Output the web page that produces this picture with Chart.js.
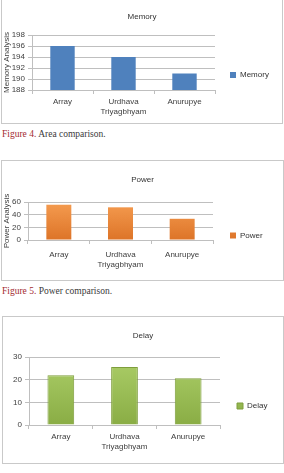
<!DOCTYPE html>
<html>
<head>
<meta charset="utf-8">
<script src="https://cdn.jsdelivr.net/npm/chart.js@4.4.1/dist/chart.umd.min.js"></script>
<style>
body{margin:0;width:284px;height:473px;background:#fff;position:relative;overflow:hidden;font-family:"Liberation Sans",Arial,sans-serif}
.box{position:absolute;border:1px solid #c9c9c9;box-sizing:border-box;background:#fff}
.box canvas{display:block}
.cap{position:absolute;left:2px;font-family:"Liberation Serif","DejaVu Serif",serif;font-size:9.5px;color:#3a3a3a;white-space:nowrap}
.cap span{color:#a32a30}
</style>
</head>
<body>

<div class="box" style="left:1px;top:-2px;width:282px;height:126px"><canvas id="memChart" width="280" height="124"></canvas></div>
<div class="cap" style="top:129px"><span>Figure 4.</span> Area comparison.</div>

<div class="box" style="left:1px;top:160px;width:283px;height:121px"><canvas id="powChart" width="281" height="119"></canvas></div>
<div class="cap" style="top:286px"><span>Figure 5.</span> Power comparison.</div>

<div class="box" style="left:2px;top:316px;width:282px;height:148px"><canvas id="delChart" width="280" height="146"></canvas></div>

<script>
// categories + values
const categories = ["Array", ["Urdhava", "Triyagbhyam"], "Anurupye"]

const memoryValues = [196, 194, 191]
const memoryTicks = [188, 190, 192, 194, 196, 198]

const powerValues = [55.7, 51.6, 33.5]
const powerTicks = [0, 20, 40, 60]

const delayValues = [22, 25.6, 20.6]
const delayTicks = [0, 10, 20, 30]

const gridColor = '#bfbfbf'
const textColor = '#404040'
const font = { family: 'Liberation Sans', size: 8, weight: 'normal' }

// legend gets a fixed width (so the plot ends where it should) and is pushed down a bit
function legendPlugin(w, shift) {
    return {
        id: 'legendPlace',
        beforeInit(chart) {
            const fit = chart.legend.fit
            chart.legend.fit = function () {
                fit.bind(chart.legend)()
                this.width = w
            }
        },
        afterLayout(chart) {
            chart.legend.top += shift
            chart.legend.bottom += shift
        }
    }
}

function vGradient(top, bottom) {
    return function (ctx) {
        const area = ctx.chart.chartArea
        if (!area) return top
        const g = ctx.chart.ctx.createLinearGradient(0, area.top, 0, area.bottom)
        g.addColorStop(0, top)
        g.addColorStop(1, bottom)
        return g
    }
}

function buildChart(id, cfg) {
    const ticks = cfg.ticks
    new Chart(document.getElementById(id).getContext('2d'), {
        type: 'bar',
        data: {
            labels: categories,
            datasets: [{
                label: cfg.label,
                data: cfg.values,
                backgroundColor: cfg.color,
                borderColor: cfg.border || cfg.color,
                borderWidth: cfg.borderWidth || 0,
                categoryPercentage: 1,
                barPercentage: cfg.barPct
            }]
        },
        options: {
            responsive: false,
            animation: false,
            events: [],
            layout: { padding: 0 },
            plugins: {
                title: {
                    display: true,
                    text: cfg.label,
                    color: '#333',
                    font: font,
                    padding: { top: cfg.titleTop, bottom: cfg.titleBottom }
                },
                legend: {
                    position: 'right',
                    labels: {
                        boxWidth: 6,
                        boxHeight: 6,
                        padding: cfg.legendPad,
                        color: '#333',
                        font: font
                    }
                },
                tooltip: { enabled: false }
            },
            scales: {
                x: {
                    afterFit: s => { s.height = cfg.xHeight },
                    grid: { display: true, drawOnChartArea: false, offset: true, tickLength: 4, color: gridColor },
                    border: { color: gridColor },
                    ticks: { color: textColor, padding: cfg.xPad, font: font, maxRotation: 0 }
                },
                y: {
                    min: ticks[0],
                    max: ticks[ticks.length - 1],
                    afterFit: s => { s.width = cfg.yWidth },
                    afterBuildTicks: s => { s.ticks = ticks.map(v => ({ value: v })) },
                    grid: { color: gridColor, tickLength: 4 },
                    border: { color: gridColor },
                    ticks: { color: textColor, padding: 3, font: font, autoSkip: false },
                    title: {
                        display: !!cfg.yTitle,
                        text: cfg.yTitle,
                        color: textColor,
                        padding: 0,
                        font: font
                    }
                }
            }
        },
        plugins: [legendPlugin(cfg.legendWidth, cfg.legendShift)]
    })
}

buildChart('memChart', {
    label: 'Memory', values: memoryValues, ticks: memoryTicks, yTitle: 'Memory Analysis',
    color: '#4f81bd', barPct: 0.40,
    titleTop: 13, titleBottom: 13.4, xHeight: 33, xPad: 3, yWidth: 30,
    legendWidth: 67, legendPad: 15, legendShift: 14
})

buildChart('powChart', {
    label: 'Power', values: powerValues, ticks: powerTicks, yTitle: 'Power Analysis',
    color: vGradient('#f59c50', '#dd7428'), barPct: 0.405,
    titleTop: 14, titleBottom: 17.4, xHeight: 40, xPad: 6, yWidth: 26,
    legendWidth: 70, legendPad: 17, legendShift: 15
})

buildChart('delChart', {
    label: 'Delay', values: delayValues, ticks: delayTicks, yTitle: '',
    color: vGradient('#acce68', '#8aad45'), border: '#7e9e3c', borderWidth: 1, barPct: 0.42,
    titleTop: 14, titleBottom: 16.4, xHeight: 38, xPad: 3, yWidth: 26,
    legendWidth: 63, legendPad: 17, legendShift: 16
})
</script>
</body>
</html>
